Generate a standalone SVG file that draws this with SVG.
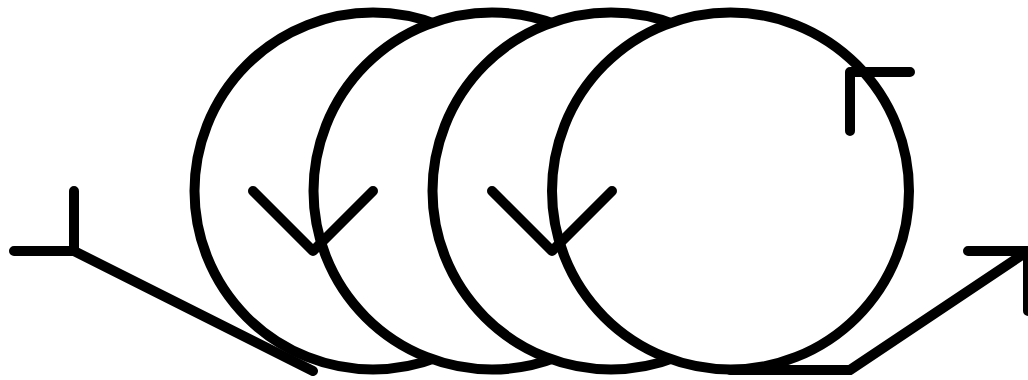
<svg xmlns="http://www.w3.org/2000/svg" width="1028" height="380" viewBox="0 0 1028 380">
<style>
.s{fill:none;stroke:#000;stroke-width:10;stroke-linecap:round;stroke-linejoin:round}
.c{fill:#fff;stroke:#000;stroke-width:10}
</style>
<rect width="1028" height="380" fill="#fff"/>
<g id="coil1"><circle class="c" cx="373" cy="191" r="178.5"/></g>
<g id="coil2"><circle class="c" cx="492" cy="191" r="178.5"/></g>
<g id="coil3"><circle class="c" cx="611" cy="191" r="178.5"/></g>
<g id="coil4"><circle class="c" cx="730.5" cy="191" r="178.5"/></g>
<g id="connectors">
<path class="s" d="M14,251 H74 V191"/>
<path class="s" d="M74,251 L313,371"/>
<path class="s" d="M253,191 L313,251 L373,191"/>
<path class="s" d="M492,191 L552,251 L612,191"/>
<path class="s" d="M850,131 V72 H910"/>
<path class="s" d="M730,370 H850 L1028,251"/>
<path class="s" d="M968,251 H1028 V311"/>
</g>
</svg>
